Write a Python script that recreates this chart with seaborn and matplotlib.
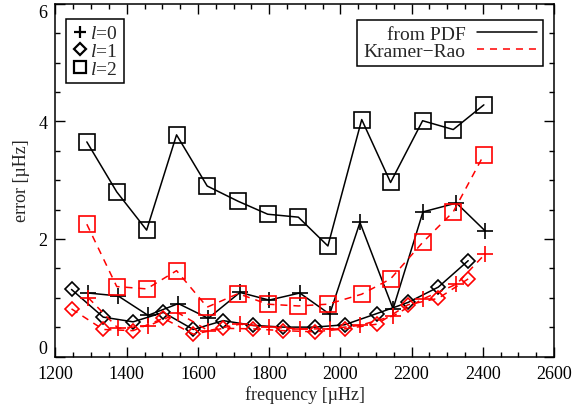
import matplotlib
matplotlib.use("Agg")
import matplotlib.pyplot as plt
from matplotlib.lines import Line2D
from matplotlib.ticker import MultipleLocator
import seaborn as sns
import pandas as pd

# l=0 modes
f0 = [1292, 1376, 1460, 1545, 1629, 1718, 1800, 1886, 1970, 2055, 2148, 2232, 2326, 2406]
e0_pdf = [1.08, 1.03, 0.70, 0.90, 0.65, 1.09, 0.96, 1.08, 0.72, 2.28, 0.81, 2.46, 2.61, 2.14]
e0_kr = [1.00, 0.48, 0.52, 0.74, 0.44, 0.55, 0.50, 0.47, 0.47, 0.53, 0.69, 0.98, 1.23, 1.74]
# l=1 modes
f1 = [1245, 1334, 1418, 1503, 1587, 1671, 1755, 1839, 1928, 2012, 2102, 2190, 2275, 2359]
e1_pdf = [1.14, 0.67, 0.59, 0.75, 0.46, 0.61, 0.53, 0.50, 0.50, 0.54, 0.73, 0.92, 1.18, 1.63]
e1_kr = [0.81, 0.46, 0.44, 0.65, 0.38, 0.48, 0.47, 0.44, 0.42, 0.47, 0.55, 0.88, 0.99, 1.32]
# l=2 modes
f2 = [1288, 1372, 1456, 1540, 1626, 1713, 1796, 1882, 1965, 2060, 2141, 2231, 2317, 2403]
e2_pdf = [3.65, 2.80, 2.15, 3.77, 2.90, 2.64, 2.42, 2.37, 1.88, 4.03, 2.96, 4.01, 3.86, 4.28]
e2_kr = [2.25, 1.19, 1.15, 1.46, 0.84, 1.07, 0.89, 0.86, 0.89, 1.06, 1.32, 1.94, 2.46, 3.43]

xticks = [1200, 1400, 1600, 1800, 2000, 2200, 2400, 2600]
yticks = [0, 2, 4, 6]

sns.set_style("ticks")
plt.rcParams['font.family'] = ['Liberation Serif', 'DejaVu Serif']
plt.rcParams['mathtext.fontset'] = 'custom'
plt.rcParams['mathtext.it'] = 'Liberation Serif:italic'
plt.rcParams['mathtext.rm'] = 'Liberation Serif'

fig = plt.figure(figsize=(5.78, 4.10), dpi=100)
ax = fig.add_axes([0.096, 0.128, 0.8625, 0.8605])

lw = 1.1
mew = 1.2
dash = (4.6, 3.9)

series = [
    (f0, e0_pdf, 'black', '-', '+', 11.5),
    (f1, e1_pdf, 'black', '-', 'D', 7.6),
    (f2, e2_pdf, 'black', '-', 's', 11.5),
    (f0, e0_kr, 'red', '--', '+', 11.5),
    (f1, e1_kr, 'red', '--', 'D', 7.6),
    (f2, e2_kr, 'red', '--', 's', 11.5),
]

for fx, ey, col, ls, mk, ms in series:
    df = pd.DataFrame({'f': fx, 'e': ey})
    kw = dict(color=col, lw=lw, marker=mk, markersize=ms,
              markerfacecolor='none', markeredgecolor=col, markeredgewidth=mew)
    if ls == '--':
        kw['dashes'] = dash
    sns.lineplot(data=df, x='f', y='e', ax=ax, sort=False, estimator=None, **kw)

ax.set_xlim(1200, 2600)
ax.set_ylim(0, 6)
ax.set_xticks(xticks)
ax.set_yticks(yticks)
ax.xaxis.set_minor_locator(MultipleLocator(50))
ax.yaxis.set_minor_locator(MultipleLocator(0.5))
ax.tick_params(which='both', direction='in', top=True, right=True, labelsize=13, colors='black')
ax.tick_params(which='major', length=7, width=1.0, pad=6)
ax.tick_params(which='minor', length=3.5, width=1.0)
for sp in ax.spines.values():
    sp.set_linewidth(1.1)
    sp.set_color('black')

ax.set_xlabel('frequency [µHz]', fontsize=13, labelpad=2)
ax.set_ylabel('error [µHz]', fontsize=13, labelpad=6)

fig.canvas.draw()
ylabs = ax.get_yticklabels()
ylabs[0].set_verticalalignment('bottom')
ylabs[-1].set_verticalalignment('top')

# left legend: degree markers
hl = [Line2D([], [], ls='none', marker='+', markersize=9, color='black', markeredgewidth=1.6),
      Line2D([], [], ls='none', marker='D', markersize=6, color='black', markerfacecolor='none', markeredgewidth=1.6),
      Line2D([], [], ls='none', marker='s', markersize=9, color='black', markerfacecolor='none', markeredgewidth=1.6)]
leg1 = ax.legend(hl, [r'$l$=0', r'$l$=1', r'$l$=2'], loc='upper left',
                 bbox_to_anchor=(0.021, 0.957), fontsize=14, fancybox=False,
                 framealpha=1, edgecolor='black', handlelength=0.8, handletextpad=0.15,
                 labelspacing=0.0, borderpad=0.3, borderaxespad=0)
leg1.get_frame().set_linewidth(1.1)
ax.add_artist(leg1)

h2 = [Line2D([], [], color='black', lw=lw),
      Line2D([], [], color='red', lw=lw, dashes=dash)]
leg2 = ax.legend(h2, ['from PDF', 'Kramer\u2212Rao'], loc='upper right',
                 bbox_to_anchor=(0.978, 0.955), fontsize=14, fancybox=False,
                 framealpha=1, edgecolor='black', markerfirst=False,
                 handlelength=3.1, handletextpad=0.6, labelspacing=-0.05,
                 borderpad=0.3, borderaxespad=0)
leg2.get_frame().set_linewidth(1.1)

fig.savefig('out.png', dpi=100)
